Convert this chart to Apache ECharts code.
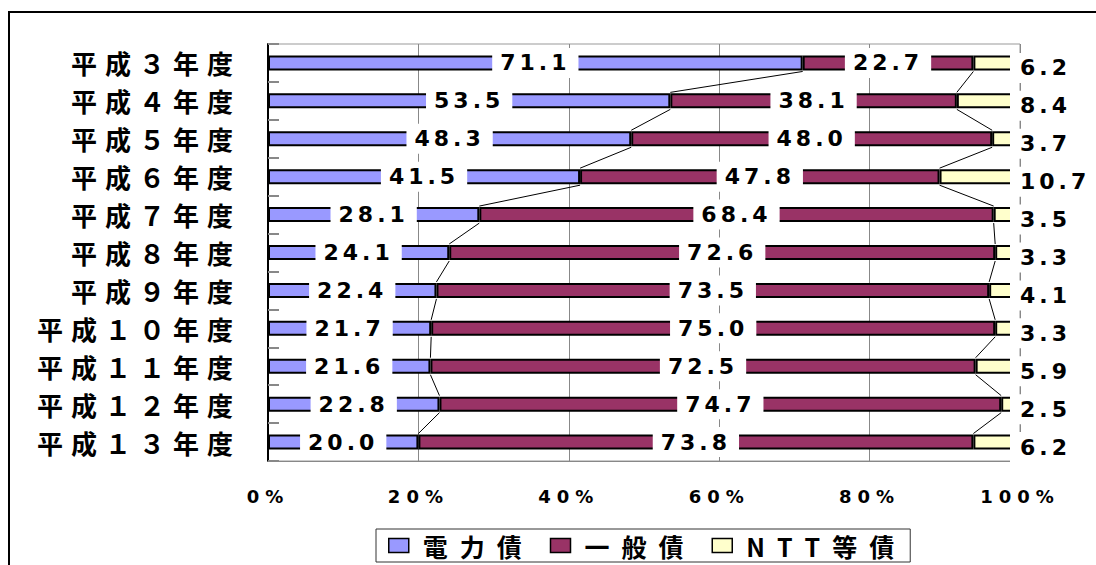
<!DOCTYPE html>
<html>
<head>
<meta charset="utf-8">
<script src="https://cdn.jsdelivr.net/npm/echarts@6.0.0/dist/echarts.min.js"></script>
<style>
  html, body { margin: 0; padding: 0; background: #fff; }
  #main { width: 1096px; height: 565px; }
  /* wide spacing of the original lettering */
  #main text[style*="26px"] { letter-spacing: 8px; }
  #main text[style*="22px"] { letter-spacing: 4px; }
  #main text[style*="18px"] { letter-spacing: 6px; }
  #main text[style*="25px"] { letter-spacing: 12px; }
</style>
</head>
<body>
<div id="main"></div>
<script>
const categories = ['平成３年度', '平成４年度', '平成５年度', '平成６年度', '平成７年度', '平成８年度',
  '平成９年度', '平成１０年度', '平成１１年度', '平成１２年度', '平成１３年度'];
const denryoku = [71.1, 53.5, 48.3, 41.5, 28.1, 24.1, 22.4, 21.7, 21.6, 22.8, 20.0];
const ippan = [22.7, 38.1, 48.0, 47.8, 68.4, 72.6, 73.5, 75.0, 72.5, 74.7, 73.8];
const ntt = [6.2, 8.4, 3.7, 10.7, 3.5, 3.3, 4.1, 3.3, 5.9, 2.5, 6.2];
const seriesNames = ['電力債', '一般債', 'NTT等債'];

// series lines between neighbouring bars (Excel style)
const cum1 = denryoku;
const cum2 = denryoku.map((v, i) => v + ippan[i]);
const joinData = [];
for (let i = 0; i < categories.length - 1; i++) {
  joinData.push([cum1[i], i, cum1[i + 1], i + 1]);
  joinData.push([cum2[i], i, cum2[i + 1], i + 1]);
}

const numFont = 'DejaVu Sans';
const cjkFont = 'Noto Sans CJK JP';

const innerLabel = {
  show: true,
  position: 'inside',
  formatter: p => p.value.toFixed(1),
  color: '#000',
  fontFamily: numFont,
  fontWeight: 'bold',
  fontSize: 22,
  lineHeight: 22,
  textBorderWidth: 0,
  backgroundColor: '#fff',
  padding: [4, 16]
};

const chart = echarts.init(document.getElementById('main'), null, { renderer: 'svg' });
chart.setOption({
  animation: false,
  backgroundColor: '#fff',
  graphic: [{
    type: 'rect',
    shape: { x: 9, y: 12, width: 1200, height: 700 },
    style: { fill: 'none', stroke: '#000', lineWidth: 2 },
    silent: true
  }],
  grid: {
    left: 268, top: 44, right: 76, bottom: 104,
    containLabel: false,
    outerBoundsMode: 'none',
    show: true,
    borderColor: '#999',
    borderWidth: 1
  },
  legend: {
    data: seriesNames,
    left: 376, top: 529,
    icon: 'rect',
    itemWidth: 20, itemHeight: 14,
    itemGap: 52,
    padding: [4, 64, 4, 12],
    borderColor: '#333', borderWidth: 1,
    itemStyle: { borderColor: '#000', borderWidth: 1.5 },
    textStyle: {
      fontFamily: cjkFont, fontWeight: 'bold', fontSize: 25, color: '#000',
      padding: [0, 0, 0, 9]
    }
  },
  xAxis: {
    type: 'value',
    min: 0, max: 100, interval: 20,
    axisLine: { show: true, lineStyle: { color: '#888', width: 1 } },
    axisTick: { show: false },
    splitLine: { show: true, lineStyle: { color: '#888', width: 1 } },
    axisLabel: {
      formatter: '{value}%',
      margin: 26,
      color: '#000',
      fontFamily: numFont, fontWeight: 'bold', fontSize: 18
    }
  },
  yAxis: {
    type: 'category',
    inverse: true,
    data: categories,
    axisLine: { show: true, lineStyle: { color: '#000', width: 2 } },
    axisTick: { show: true, inside: true, length: 11, interval: 0, lineStyle: { color: '#888', width: 2 } },
    axisLabel: {
      interval: 0,
      margin: 27,
      color: '#000',
      fontFamily: cjkFont, fontWeight: 'bold', fontSize: 26
    }
  },
  series: [
    {
      name: seriesNames[0], type: 'bar', stack: 'total', data: denryoku,
      barWidth: 15,
      itemStyle: { color: '#9999FF', borderColor: '#000', borderWidth: 2 },
      label: innerLabel
    },
    {
      name: seriesNames[1], type: 'bar', stack: 'total', data: ippan,
      barWidth: 15,
      itemStyle: { color: '#993366', borderColor: '#000', borderWidth: 2 },
      label: innerLabel
    },
    {
      name: seriesNames[2], type: 'bar', stack: 'total', data: ntt,
      barWidth: 15,
      itemStyle: { color: '#FFFFCC', borderColor: '#000', borderWidth: 2 },
      label: Object.assign({}, innerLabel, {
        position: 'right',
        distance: 0,
        offset: [-10, 5],
        padding: [4, 10]
      })
    },
    {
      type: 'custom',
      silent: true,
      data: joinData,
      encode: { x: [0, 2], y: [1, 3] },
      clip: false,
      z: 3,
      renderItem: (params, api) => {
        const a = api.coord([api.value(0), api.value(1)]);
        const b = api.coord([api.value(2), api.value(3)]);
        const h = 8.5;
        return {
          type: 'line',
          shape: { x1: a[0], y1: a[1] + h, x2: b[0], y2: b[1] - h },
          style: { stroke: '#000', lineWidth: 1 }
        };
      }
    }
  ]
});
</script>
</body>
</html>
